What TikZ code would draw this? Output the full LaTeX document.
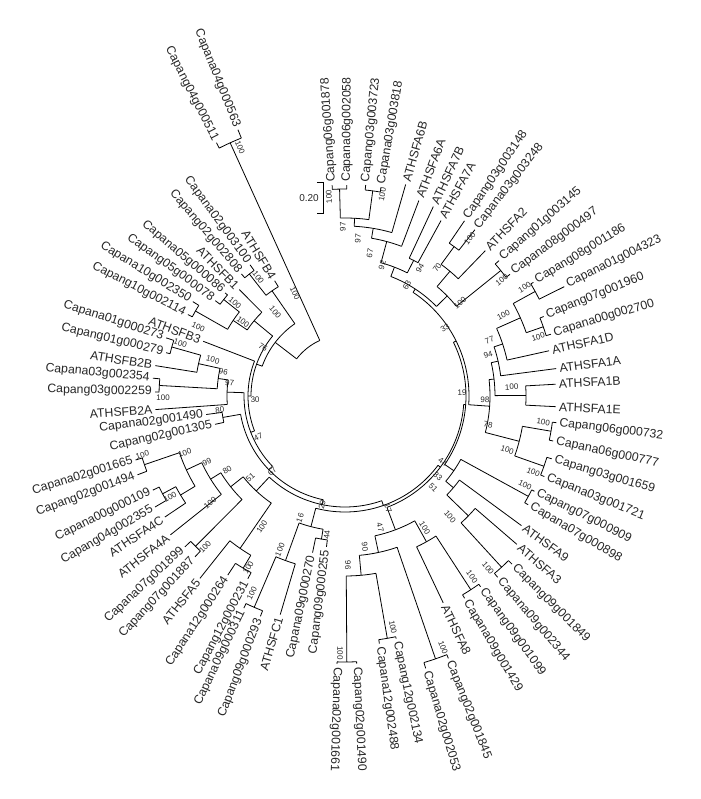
\documentclass[tikz,border=0pt]{standalone}
\usepackage{fontspec}
\setmainfont{Liberation Sans}
\usetikzlibrary{calc}
\begin{document}
\begin{tikzpicture}[x=0.75pt,y=0.75pt,
  br/.style={line width=0.6pt,black},
  lab/.style={font=\fontsize{9.2}{10}\selectfont,inner sep=0pt,text=black!85},
  bsl/.style={font=\fontsize{6}{7}\selectfont,inner sep=0pt,text=black!85}]
\useasboundingbox (-345,-403) rectangle (355,396);
% leaf: name, angle, tip radius, text
\newcommand\lf[4]{%
  \coordinate (#1) at ({#2}:{#3});
  \ifdim #2pt>95pt
    \node[lab,anchor=east,rotate={#2-180}] (#1t) at ({#2}:{#3+3}) {#4};
  \else
    \node[lab,anchor=west,rotate={#2}] (#1t) at ({#2}:{#3+3}) {#4};
  \fi}
% stem: angle, from radius, to radius
\newcommand\st[3]{\draw[br] ({#1}:{#2}) -- ({#1}:{#3});}
% clade arc: angle1, angle2, radius
\newcommand\cl[3]{\draw[br] ({#1}:{#3}) arc[start angle={#1},end angle={#2},radius={#3*0.75pt}];}
% bootstrap value
\newcommand\bs[3]{%
  \ifdim #1pt>95pt
    \node[bsl,rotate={#1-180}] at ({#1}:{#2}) {#3};
  \else
    \node[bsl,rotate={#1}] at ({#1}:{#2}) {#3};
  \fi}
% ---------------- leaves
\lf{L1}{116.9}{284}{Capang04g000511}
\lf{L2}{111.9}{287}{Capana04g000563}
\lf{L3}{93.5}{211}{Capang06g001878}
\lf{L4}{89.5}{211}{Capana06g002058}
\lf{L5}{84.4}{212}{Capang03g003723}
\lf{L6}{80.2}{212}{Capana03g003818}
\lf{L7}{74.0}{220}{ATHSFA6B}
\lf{L8}{69.3}{209}{ATHSFA6A}
\lf{L9}{65.0}{209}{ATHSFA7B}
\lf{L10}{61.3}{200}{ATHSFA7A}
\lf{L11}{55.7}{212}{Capang03g003148}
\lf{L12}{52.0}{211}{Capana03g003248}
\lf{L13}{46.0}{202}{ATHSFA2}
\lf{L14}{41.3}{205}{Capang01g003145}
\lf{L15}{36.4}{205}{Capana08g000497}
\lf{L16}{31.1}{220}{Capang08g001186}
\lf{L17}{26.5}{245}{Capana01g004323}
\lf{L18}{21.8}{214}{Capang07g001960}
\lf{L19}{16.7}{215}{Capana00g002700}
\lf{L20}{12.5}{209}{ATHSFA1D}
\lf{L21}{7.4}{213}{ATHSFA1A}
\lf{L22}{3.2}{211}{ATHSFA1B}
\lf{L23}{-2.9}{211}{ATHSFA1E}
\lf{L24}{-7.2}{213}{Capang06g000732}
\lf{L25}{-12.2}{213}{Capana06g000777}
\lf{L26}{-16.9}{216}{Capang03g001659}
\lf{L27}{-22.0}{215}{Capana03g001721}
\lf{L28}{-26.7}{212}{Capang07g000909}
\lf{L29}{-30.7}{213}{Capana07g000898}
\lf{L30}{-36.3}{219}{ATHSFA9}
\lf{L31}{-40.8}{227}{ATHSFA3}
\lf{L32}{-45.2}{237}{Capang09g001849}
\lf{L33}{-49.9}{237}{Capana09g002344}
\lf{L34}{-54.6}{234}{Capang09g001099}
\lf{L35}{-59.4}{235}{Capana09g001429}
\lf{L36}{-64.6}{229}{ATHSFA8}
\lf{L37}{-68.5}{282}{Capang02g001845}
\lf{L38}{-73.5}{284}{Capana02g002053}
\lf{L39}{-78.1}{248}{Capang12g002134}
\lf{L40}{-82.1}{250}{Capana12g002488}
\lf{L41}{-87.5}{268}{Capang02g001490}
\lf{L42}{-91.7}{268}{Capana02g001661}
\lf{L43}{263.0}{152}{Capang09g000255}
\lf{L44}{258.3}{160}{Capana09g000270}
\lf{L45}{253.5}{228}{ATHSFC1}
\lf{L46}{249.0}{236}{Capang09g000293}
\lf{L47}{244.5}{235}{Capana09g000311}
\lf{L48}{242.0}{207}{Capang12g000231}
\lf{L49}{236.8}{214}{Capana12g000264}
\lf{L50}{231.5}{233}{ATHSFA5}
\lf{L51}{227.0}{220}{Capang07g001887}
\lf{L52}{223.3}{220}{Capana07g001899}
\lf{L53}{218.5}{223}{ATHSFA4A}
\lf{L54}{213.9}{217}{ATHSFA4C}
\lf{L55}{210.3}{220}{Capang04g002355}
\lf{L56}{206.1}{214}{Capana00g000109}
\lf{L57}{200.8}{222}{Capang02g001494}
\lf{L58}{197.0}{219}{Capana02g001665}
\lf{L59}{192.3}{133}{Capang02g001305}
\lf{L60}{187.6}{140}{Capana02g001490}
\lf{L61}{184.1}{190}{ATHSFB2A}
\lf{L62}{178.8}{190}{Capang03g002259}
\lf{L63}{174.7}{193}{Capana03g002354}
\lf{L64}{170.9}{192}{ATHSFB2B}
\lf{L65}{166.4}{184}{Capang01g000279}
\lf{L66}{162.0}{188}{Capana01g000273}
\lf{L67}{158.9}{152}{ATHSFB3}
\lf{L68}{152.6}{177}{Capang10g002114}
\lf{L69}{148.2}{179}{Capana10g002350}
\lf{L70}{143.7}{161}{Capang05g000078}
\lf{L71}{139.3}{158}{Capana05g000086}
\lf{L72}{134.8}{150}{ATHSFB1}
\lf{L73}{130.3}{160}{Capang02g002808}
\lf{L74}{125.9}{162}{Capana02g003100}
\lf{L75}{121.4}{135}{ATHSFB4}
% ---------------- branches
% A6 / A7 / A2
\st{93.5}{207}{211} \st{89.5}{207}{211} \cl{93.5}{89.5}{207}
\st{84.4}{207}{212} \st{80.2}{207}{212} \cl{84.4}{80.2}{207}
\st{91.5}{178}{207} \st{82.3}{178}{207} \cl{91.5}{82.3}{178}
\st{86.9}{170}{178} \st{74.0}{170}{220} \cl{86.9}{74.0}{170}
\st{80.45}{160}{170} \st{69.3}{160}{209} \cl{80.45}{69.3}{160}
\st{65.0}{152}{209} \st{61.3}{152}{200} \cl{65.0}{61.3}{152}
\st{74.875}{138}{160} \st{63.15}{138}{152} \cl{74.875}{63.15}{138}
\st{55.7}{185}{212} \st{52.0}{185}{211} \cl{55.7}{52.0}{185}
\st{53.85}{163}{185} \st{46.0}{163}{202} \cl{53.85}{46.0}{163}
\st{41.3}{200}{205} \st{36.4}{200}{205} \cl{41.3}{36.4}{200}
\st{49.925}{143}{163} \st{38.85}{143}{200} \cl{49.925}{38.85}{143}
\st{69.01}{128}{138} \st{44.39}{128}{143} \cl{69.01}{44.39}{128}
% A1
\st{31.1}{217}{220} \st{26.5}{217}{245} \cl{31.1}{26.5}{217}
\st{21.8}{210}{214} \st{16.7}{210}{215} \cl{21.8}{16.7}{210}
\st{28.8}{192}{217} \st{19.25}{192}{210} \cl{28.8}{19.25}{192}
\st{24.025}{166}{192} \st{12.5}{166}{209} \cl{24.025}{12.5}{166}
\st{18.26}{157}{166} \st{7.4}{157}{213} \cl{18.26}{7.4}{157}
\st{3.2}{181}{211} \st{-2.9}{181}{211} \cl{3.2}{-2.9}{181}
\st{12.83}{150}{157} \st{0.15}{150}{181} \cl{12.83}{0.15}{150}
\st{-7.2}{209}{213} \st{-12.2}{209}{213} \cl{-7.2}{-12.2}{209}
\st{-16.9}{211}{216} \st{-22.0}{211}{215} \cl{-16.9}{-22.0}{211}
\st{-9.7}{180}{209} \st{-19.45}{180}{211} \cl{-9.7}{-19.45}{180}
\st{6.49}{145}{150} \st{-14.575}{145}{180} \cl{6.49}{-14.575}{145}
% A9 / A3
\st{-26.7}{209}{212} \st{-30.7}{209}{213} \cl{-26.7}{-30.7}{209}
\st{-45.2}{232}{237} \st{-49.9}{232}{237} \cl{-45.2}{-49.9}{232}
\st{-40.8}{172}{227} \st{-47.55}{172}{232} \cl{-40.8}{-47.55}{172}
\st{-36.3}{142}{219} \st{-44.175}{142}{172} \cl{-36.3}{-44.175}{142}
\st{-28.7}{132}{209} \st{-40.24}{132}{142} \cl{-28.7}{-40.24}{132}
% A8 and relatives
\st{-54.6}{231}{234} \st{-59.4}{231}{235} \cl{-54.6}{-59.4}{231}
\st{-57.0}{167}{231} \st{-64.6}{167}{229} \cl{-57.0}{-64.6}{167}
\st{-68.5}{278}{282} \st{-73.5}{278}{284} \cl{-68.5}{-73.5}{278}
\st{-78.1}{246}{248} \st{-82.1}{246}{250} \cl{-78.1}{-82.1}{246}
\st{-87.5}{266}{268} \st{-91.7}{266}{268} \cl{-87.5}{-91.7}{266}
\st{-80.1}{180}{246} \st{-89.6}{180}{266} \cl{-80.1}{-89.6}{180}
\st{-71.0}{160}{278} \st{-84.85}{160}{180} \cl{-71.0}{-84.85}{160}
\st{-60.8}{143}{167} \st{-77.925}{143}{160} \cl{-60.8}{-77.925}{143}
% backbone (right)
\st{56.7}{124}{128} \st{-4.04}{124}{145} \cl{56.7}{-4.04}{124}
\st{26.33}{121}{124} \st{-34.47}{121}{132} \cl{26.33}{-34.47}{121}
\st{-4.07}{119}{121} \st{-69.36}{119}{143} \cl{-4.07}{-69.36}{119}
% C
\st{263.0}{145}{152} \st{258.3}{145}{160} \cl{263.0}{258.3}{145}
\st{249.0}{230}{236} \st{244.5}{230}{235} \cl{249.0}{244.5}{230}
\st{253.5}{175}{228} \st{246.75}{175}{230} \cl{253.5}{246.75}{175}
\st{260.65}{135}{145} \st{250.125}{135}{175} \cl{260.65}{250.125}{135}
\st{255.39}{116}{135} \st{323.285}{116}{119} \cl{255.39}{323.285}{116}
% A4 / A5
\st{242.0}{200}{207} \st{236.8}{200}{214} \cl{242.0}{236.8}{200}
\st{239.4}{185}{200} \st{231.5}{185}{233} \cl{239.4}{231.5}{185}
\st{227.0}{212}{220} \st{223.3}{212}{220} \cl{227.0}{223.3}{212}
\st{210.3}{207}{220} \st{206.1}{207}{214} \cl{210.3}{206.1}{207}
\st{213.9}{192}{217} \st{208.2}{192}{207} \cl{213.9}{208.2}{192}
\st{200.8}{212}{222} \st{197.0}{212}{219} \cl{200.8}{197.0}{212}
\st{211.05}{175}{192} \st{198.9}{175}{212} \cl{211.05}{198.9}{175}
\st{218.5}{158}{223} \st{204.975}{158}{175} \cl{218.5}{204.975}{158}
\st{225.15}{146}{212} \st{211.74}{146}{158} \cl{225.15}{211.74}{146}
\st{235.45}{130}{185} \st{218.445}{130}{146} \cl{235.45}{218.445}{130}
\st{226.95}{111}{130} \st{289.34}{111}{116} \cl{226.95}{289.34}{111}
\st{192.3}{124}{133} \st{187.6}{124}{140} \cl{192.3}{187.6}{124}
\st{189.95}{106}{124} \st{258.145}{106}{111} \cl{189.95}{258.145}{106}
% B2
\st{178.8}{186}{190} \st{174.7}{186}{193} \cl{178.8}{174.7}{186}
\st{166.4}{180}{184} \st{162.0}{180}{188} \cl{166.4}{162.0}{180}
\st{170.9}{150}{192} \st{164.2}{150}{180} \cl{170.9}{164.2}{150}
\st{176.75}{128}{186} \st{167.55}{128}{150} \cl{176.75}{167.55}{128}
\st{184.1}{118}{190} \st{172.15}{118}{128} \cl{184.1}{172.15}{118}
\st{178.125}{101}{118} \st{224.05}{101}{106} \cl{178.125}{224.05}{101}
\st{158.9}{97}{152} \st{201.09}{97}{101} \cl{158.9}{201.09}{97}
% B1 / B3 / B4
\st{152.6}{172}{177} \st{148.2}{172}{179} \cl{152.6}{148.2}{172}
\st{143.7}{155}{161} \st{139.3}{155}{158} \cl{143.7}{139.3}{155}
\st{150.4}{135}{172} \st{141.5}{135}{155} \cl{150.4}{141.5}{135}
\st{145.95}{118}{135} \st{134.8}{118}{150} \cl{145.95}{134.8}{118}
\st{130.3}{155}{160} \st{125.9}{155}{162} \cl{130.3}{125.9}{155}
\st{128.1}{128}{155} \st{121.4}{128}{135} \cl{128.1}{121.4}{128}
\st{116.9}{278}{284} \st{111.9}{278}{287} \cl{116.9}{111.9}{278}
\st{140.375}{94}{118} \st{179.995}{94}{97} \cl{140.375}{179.995}{94}
\st{124.75}{88}{128} \st{160.19}{88}{94} \cl{124.75}{160.19}{88}
\st{114.4}{61}{278} \st{142.47}{61}{88} \cl{114.4}{142.47}{61}
% ---------------- bootstrap values
\bs{94.6}{200}{100} \bs{79.5}{205}{100} \bs{90.7}{169}{97} \bs{85.3}{158}{97}
\bs{80.1}{145}{67} \bs{74.1}{136}{92} \bs{59.6}{148}{94} \bs{54.3}{158}{70}
\bs{51.6}{201}{100} \bs{60.8}{127}{63} \bs{39.0}{148}{100} \bs{36.5}{195}{100}
\bs{34.2}{121}{33} \bs{31.2}{210}{100} \bs{27.1}{178}{100} \bs{21.1}{155}{77}
\bs{16.0}{149}{94} \bs{17.0}{202}{100} \bs{3.1}{167}{100} \bs{-1.6}{140}{98}
\bs{1.5}{117}{19} \bs{-11.5}{146}{78} \bs{-7.5}{200}{100} \bs{-18.4}{171}{100}
\bs{-22.0}{203}{100} \bs{-26.3}{201}{100} \bs{-34.0}{118}{44} \bs{-41}{123}{33}
\bs{-46}{127}{51} \bs{-49.0}{160}{100} \bs{-50.3}{224}{100} \bs{-54.9}{221}{100}
\bs{-58.8}{154}{100} \bs{-68.7}{270}{100} \bs{-78.3}{236}{100} \bs{-91.1}{257}{100}
\bs{-89}{169}{96} \bs{-82.5}{152}{90} \bs{-75}{136}{47} \bs{-69}{120}{17}
\bs{258.1}{111}{29} \bs{249.8}{130}{16} \bs{262.6}{140}{44} \bs{247.1}{167}{100}
\bs{244.7}{218}{100} \bs{237.6}{155}{100} \bs{240.6}{197}{100} \bs{227.2}{206}{100}
\bs{220.8}{125}{51} \bs{212.1}{139}{80} \bs{205.6}{153}{99} \bs{199.6}{170}{100}
\bs{196.2}{211}{100} \bs{218.4}{172}{100} \bs{210.0}{202}{100} \bs{226.1}{105}{67}
\bs{205.2}{96}{47} \bs{182.5}{90}{30} \bs{186.4}{126}{80} \bs{173.6}{116}{97}
\bs{168.9}{124}{96} \bs{164.7}{137}{100} \bs{162.2}{173}{100} \bs{180.6}{182}{100}
\bs{154.9}{162}{100} \bs{144}{126}{100} \bs{139.8}{144}{100} \bs{149.1}{95.5}{76}
\bs{129.8}{109}{100} \bs{115.9}{114.5}{100} \bs{126.2}{147}{100} \bs{112.9}{270}{100}
% ---------------- scale bar
\coordinate (sbt) at (-22,214);
\coordinate (sbb) at (-22,183);
\draw[br] ($(sbt)+(-6,0)$) -- (sbt) -- (sbb) -- ($(sbb)+(-6,0)$);
\node[bsl,font=\fontsize{7.5}{8}\selectfont,anchor=east] (sbl) at (-26,198) {0.20};
\end{tikzpicture}
\end{document}
